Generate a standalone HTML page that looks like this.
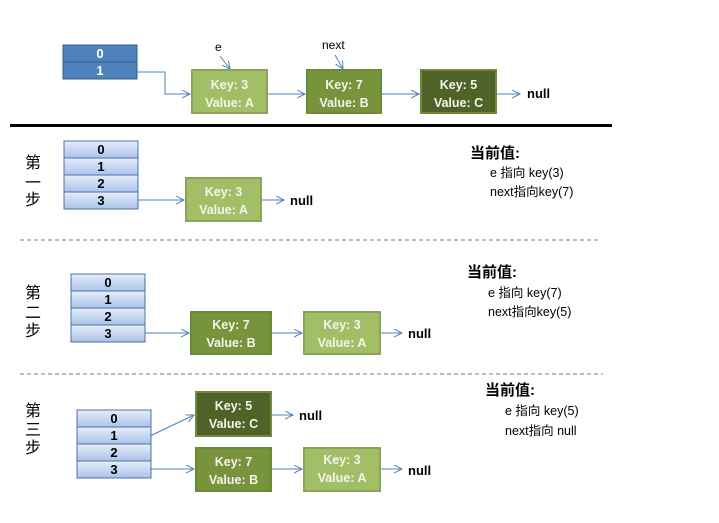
<!DOCTYPE html>
<html><head><meta charset="utf-8"><style>
html,body{margin:0;padding:0;background:#fff;width:719px;height:523px;overflow:hidden}
svg text{font-family:"Liberation Sans","Noto Sans CJK SC",sans-serif}
</style></head><body>
<svg width="719" height="523" viewBox="0 0 719 523" xmlns="http://www.w3.org/2000/svg">
<defs>
<linearGradient id="cell" x1="0" y1="0" x2="0" y2="1">
<stop offset="0" stop-color="#e6eefa"/><stop offset="1" stop-color="#a9c3ea"/>
</linearGradient>
<marker id="ar" markerWidth="10" markerHeight="10" refX="8" refY="4" orient="auto" markerUnits="userSpaceOnUse">
<path d="M0,0 L8,4 L0,8" fill="none" stroke="#4f81bd" stroke-width="1"/>
</marker>
<g id="tbl">
<rect x="0" y="0" width="74" height="17" fill="url(#cell)" stroke="#4f6fa8"/>
<rect x="0" y="17" width="74" height="17" fill="url(#cell)" stroke="#4f6fa8"/>
<rect x="0" y="34" width="74" height="17" fill="url(#cell)" stroke="#4f6fa8"/>
<rect x="0" y="51" width="74" height="17" fill="url(#cell)" stroke="#4f6fa8"/>
<g font-size="13" font-weight="bold" fill="#000" text-anchor="middle">
<text x="37" y="13">0</text><text x="37" y="30">1</text><text x="37" y="47">2</text><text x="37" y="64">3</text></g>
</g>
</defs>
<!-- top -->
<rect x="63" y="45" width="74" height="17" fill="#4f81bd" stroke="#385d8a"/>
<rect x="63" y="62" width="74" height="17" fill="#4f81bd" stroke="#385d8a"/>
<g font-size="13" font-weight="bold" fill="#fff" text-anchor="middle"><text x="100" y="58">0</text><text x="100" y="75">1</text></g>
<g stroke="#4f81bd" fill="none" marker-end="url(#ar)">
<path d="M137,72 H165 V94 H190"/>
<path d="M267,94 H305"/><path d="M381,94 H419"/><path d="M496,94 H520"/>
<path d="M220,56 L230,69"/><path d="M335,55 L343,69"/>
</g>
<text x="215" y="51" font-size="12">e</text>
<text x="322" y="49" font-size="12">next</text>
<g font-size="12.5" font-weight="bold" text-anchor="middle" fill="#f4f4e8">
<rect x="192" y="70" width="75" height="43" fill="#a2bf68" stroke="#8aa55a" stroke-width="2"/>
<text x="229.5" y="89">Key: 3</text><text x="229.5" y="107">Value: A</text>
<rect x="307" y="70" width="74" height="43" fill="#77933c" stroke="#6a8a35" stroke-width="2"/>
<text x="344" y="89">Key: 7</text><text x="344" y="107">Value: B</text>
<rect x="421" y="70" width="75" height="43" fill="#4f6228" stroke="#6e8a3a" stroke-width="2"/>
<text x="458.5" y="89">Key: 5</text><text x="458.5" y="107">Value: C</text>
</g>
<text x="527" y="98" font-size="13" font-weight="bold">null</text>
<rect x="10" y="124" width="602" height="3" fill="#000"/>
<!-- step1 -->
<use href="#tbl" x="64" y="141"/>
<g font-size="16" fill="#000"><text x="25" y="168">第</text><text x="25" y="188">一</text><text x="25" y="205">步</text></g>
<g stroke="#4f81bd" fill="none" marker-end="url(#ar)"><path d="M138,200 H184"/><path d="M261,200 H284"/></g>
<g font-size="12.5" font-weight="bold" text-anchor="middle" fill="#f4f4e8">
<rect x="186" y="178" width="75" height="43" fill="#a2bf68" stroke="#8aa55a" stroke-width="2"/>
<text x="223.5" y="196">Key: 3</text><text x="223.5" y="214">Value: A</text></g>
<text x="290" y="205" font-size="13" font-weight="bold">null</text>
<text x="470" y="158" font-size="15" font-weight="bold">当前值:</text>
<text x="490" y="177" font-size="12.5">e  指向 key(3)</text>
<text x="490" y="196" font-size="12.5">next指向key(7)</text>
<line x1="20" y1="240" x2="598" y2="240" stroke="#777" stroke-dasharray="4,3"/>
<!-- step2 -->
<use href="#tbl" x="71" y="274"/>
<g font-size="16" fill="#000"><text x="25" y="298">第</text><text x="25" y="318">二</text><text x="25" y="336">步</text></g>
<g stroke="#4f81bd" fill="none" marker-end="url(#ar)"><path d="M145,333 H189"/><path d="M271,333 H302"/><path d="M380,333 H402"/></g>
<g font-size="12.5" font-weight="bold" text-anchor="middle" fill="#f4f4e8">
<rect x="191" y="312" width="80" height="42" fill="#77933c" stroke="#6a8a35" stroke-width="2"/>
<text x="231" y="329">Key: 7</text><text x="231" y="347">Value: B</text>
<rect x="304" y="312" width="76" height="42" fill="#a2bf68" stroke="#8aa55a" stroke-width="2"/>
<text x="342" y="329">Key: 3</text><text x="342" y="347">Value: A</text></g>
<text x="408" y="338" font-size="13" font-weight="bold">null</text>
<text x="467" y="277" font-size="15" font-weight="bold">当前值:</text>
<text x="488" y="297" font-size="12.5">e  指向 key(7)</text>
<text x="488" y="316" font-size="12.5">next指向key(5)</text>
<line x1="20" y1="374" x2="603" y2="374" stroke="#777" stroke-dasharray="4,3"/>
<!-- step3 -->
<use href="#tbl" x="77" y="410"/>
<g font-size="16" fill="#000"><text x="25" y="416">第</text><text x="25" y="435">三</text><text x="25" y="453">步</text></g>
<g stroke="#4f81bd" fill="none" marker-end="url(#ar)"><path d="M150,436 L194,415"/><path d="M271,415 H293"/><path d="M150,469 H194"/><path d="M271,469 H302"/><path d="M380,469 H402"/></g>
<g font-size="12.5" font-weight="bold" text-anchor="middle" fill="#f4f4e8">
<rect x="196" y="392" width="75" height="44" fill="#4f6228" stroke="#6e8a3a" stroke-width="2"/>
<text x="233.5" y="410">Key: 5</text><text x="233.5" y="428">Value: C</text>
<rect x="196" y="448" width="75" height="43" fill="#77933c" stroke="#6a8a35" stroke-width="2"/>
<text x="233.5" y="466">Key: 7</text><text x="233.5" y="484">Value: B</text>
<rect x="304" y="448" width="76" height="43" fill="#a2bf68" stroke="#8aa55a" stroke-width="2"/>
<text x="342" y="464">Key: 3</text><text x="342" y="482">Value: A</text></g>
<text x="299" y="420" font-size="13" font-weight="bold">null</text>
<text x="408" y="475" font-size="13" font-weight="bold">null</text>
<text x="485" y="395" font-size="15" font-weight="bold">当前值:</text>
<text x="505" y="415" font-size="12.5">e  指向 key(5)</text>
<text x="505" y="435" font-size="12.5">next指向 null</text>
</svg>
</body></html>
